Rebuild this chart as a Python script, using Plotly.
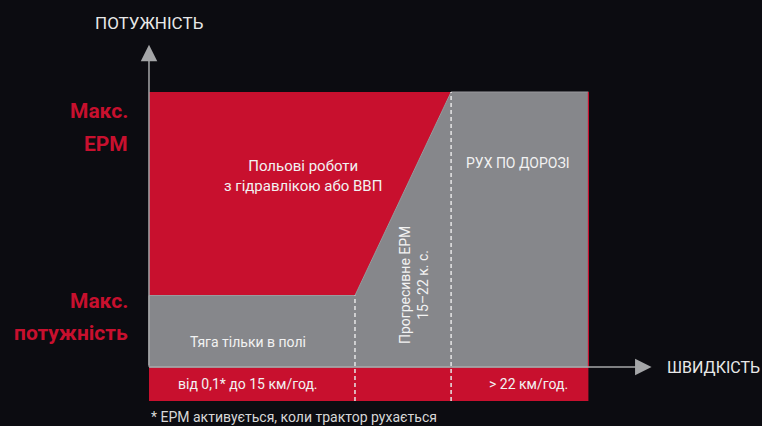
import plotly.graph_objects as go

# ---- data ----
speed_breaks = [0, 15, 22, 32]          # km/h boundaries: start, field limit, EPM limit, end
power_levels = [0, 26, 100]             # % : zero, max power, max EPM
strip_bottom = -12.4                    # bottom of speed-range strip
axis_x_end = 36.6
axis_y_end = 116

zone_labels = ["Польові роботи<br>з гідравлікою або ВВП", "РУХ ПО ДОРОЗІ",
               "Тяга тільки в полі", "Прогресивне ЕРМ<br>15–22 к. с."]
strip_labels = ["від 0,1* до 15 км/год.", "> 22 км/год."]
y_labels_top = ["Макс.", "ЕРМ"]
y_labels_bottom = ["Макс.", "потужність"]
axis_titles = ["ПОТУЖНІСТЬ", "ШВИДКІСТЬ"]
footnote = "* ЕРМ активується, коли трактор рухається"

RED = "#c8102e"
GREY = "#86878b"
BG = "#0c0c11"
AX = "#a5a6a8"
FONT = "Roboto, Liberation Sans, sans-serif"

s0, s1, s2, s3 = speed_breaks
p0, p1, p2 = power_levels

fig = go.Figure()

# red strip under axis
fig.add_trace(go.Scatter(x=[s0, s3, s3, s0, s0], y=[strip_bottom, strip_bottom, p0, p0, strip_bottom],
                         fill="toself", fillcolor=RED, mode="lines", line=dict(width=0), hoverinfo="skip"))
# red field-work polygon
fig.add_trace(go.Scatter(x=[s0, s0, s2, s1, s0], y=[p1, p2, p2, p1, p1],
                         fill="toself", fillcolor=RED, mode="lines", line=dict(width=0), hoverinfo="skip"))
# grey polygon
fig.add_trace(go.Scatter(x=[s0, s0, s1, s2, s3, s3, s0], y=[p0, p1, p1, p2, p2, p0, p0],
                         fill="toself", fillcolor=GREY, mode="lines",
                         line=dict(width=1, color="#9a9b9e"), hoverinfo="skip"))
# right red edge
fig.add_trace(go.Scatter(x=[s3, s3], y=[p0, p2], mode="lines", line=dict(width=1.2, color=RED), hoverinfo="skip"))
# dashed separators
fig.add_trace(go.Scatter(x=[s1, s1], y=[strip_bottom, p1], mode="lines",
                         line=dict(width=1.5, color="#e6e6e6", dash="4px,3px"), hoverinfo="skip"))
fig.add_trace(go.Scatter(x=[s2, s2], y=[strip_bottom, p2], mode="lines",
                         line=dict(width=1.5, color="#e6e6e6", dash="4px,3px"), hoverinfo="skip"))

# axes arrows
fig.add_annotation(x=axis_x_end, y=p0, ax=s0 - 0.1, ay=p0, xref="x", yref="y", axref="x", ayref="y",
                   showarrow=True, arrowhead=2, arrowsize=2.2, arrowwidth=1.5, arrowcolor=AX, text="")
fig.add_annotation(x=s0, y=axis_y_end + 1.2, ax=s0, ay=p0, xref="x", yref="y", axref="x", ayref="y",
                   showarrow=True, arrowhead=2, arrowsize=2.2, arrowwidth=1.5, arrowcolor=AX, text="")

W = "#f2f2f2"
fig.add_annotation(x=(s0 + s2) / 2 + 0.2, y=69.6, text=zone_labels[0], showarrow=False,
                   font=dict(family=FONT, size=15, color=W), align="center")
fig.add_annotation(x=(s2 + s3) / 2 - 0.1, y=74.3, text=zone_labels[1], showarrow=False,
                   font=dict(family=FONT, size=14, color=W), align="center")
fig.add_annotation(x=(s0 + s1) / 2 - 0.3, y=9, text=zone_labels[2], showarrow=False,
                   font=dict(family=FONT, size=14, color=W))
fig.add_annotation(x=(s1 + s2) / 2 + 0.8, y=29.8, text=zone_labels[3], showarrow=False, textangle=-90,
                   font=dict(family=FONT, size=14, color=W), align="center")
fig.add_annotation(x=(s0 + s1) / 2 - 0.3, y=(strip_bottom + p0) / 2, text=strip_labels[0], showarrow=False,
                   font=dict(family=FONT, size=14, color=W))
fig.add_annotation(x=(s2 + s3) / 2 + 0.6, y=(strip_bottom + p0) / 2, text=strip_labels[1], showarrow=False,
                   font=dict(family=FONT, size=14, color=W))

# y labels (two lines each, spaced like the reference)
for txt, yy in zip(y_labels_top, [93.1, 81.1]):
    fig.add_annotation(x=s0 - 1.4, y=yy, text="<b>" + txt + "</b>", showarrow=False, xanchor="right",
                       font=dict(family=FONT, size=21, color=RED))
for txt, yy in zip(y_labels_bottom, [24.0, 12.4]):
    fig.add_annotation(x=s0 - 1.4, y=yy, text="<b>" + txt + "</b>", showarrow=False, xanchor="right",
                       font=dict(family=FONT, size=21, color=RED))

# axis titles
fig.add_annotation(x=s0, y=125, text=axis_titles[0], showarrow=False,
                   font=dict(family=FONT, size=17, color="#e8e8e8"))
fig.add_annotation(x=axis_x_end + 1.0, y=p0, text=axis_titles[1], showarrow=False, xanchor="left",
                   font=dict(family=FONT, size=16, color="#e8e8e8"))
# footnote
fig.add_annotation(x=s0, y=-18.0, text=footnote, showarrow=False, xanchor="left",
                   font=dict(family=FONT, size=14, color="#d8d8d8"))

fig.update_layout(
    width=762, height=426, margin=dict(l=0, r=0, t=0, b=0),
    paper_bgcolor=BG, plot_bgcolor=BG, showlegend=False,
    xaxis=dict(range=[-10.85, 44.64], visible=False, fixedrange=True),
    yaxis=dict(range=[-21.45, 133.45], visible=False, fixedrange=True),
)

fig.write_html("out.html", config={"displayModeBar": False},
               post_script="document.body.style.margin='0';document.body.style.overflow='hidden';")
